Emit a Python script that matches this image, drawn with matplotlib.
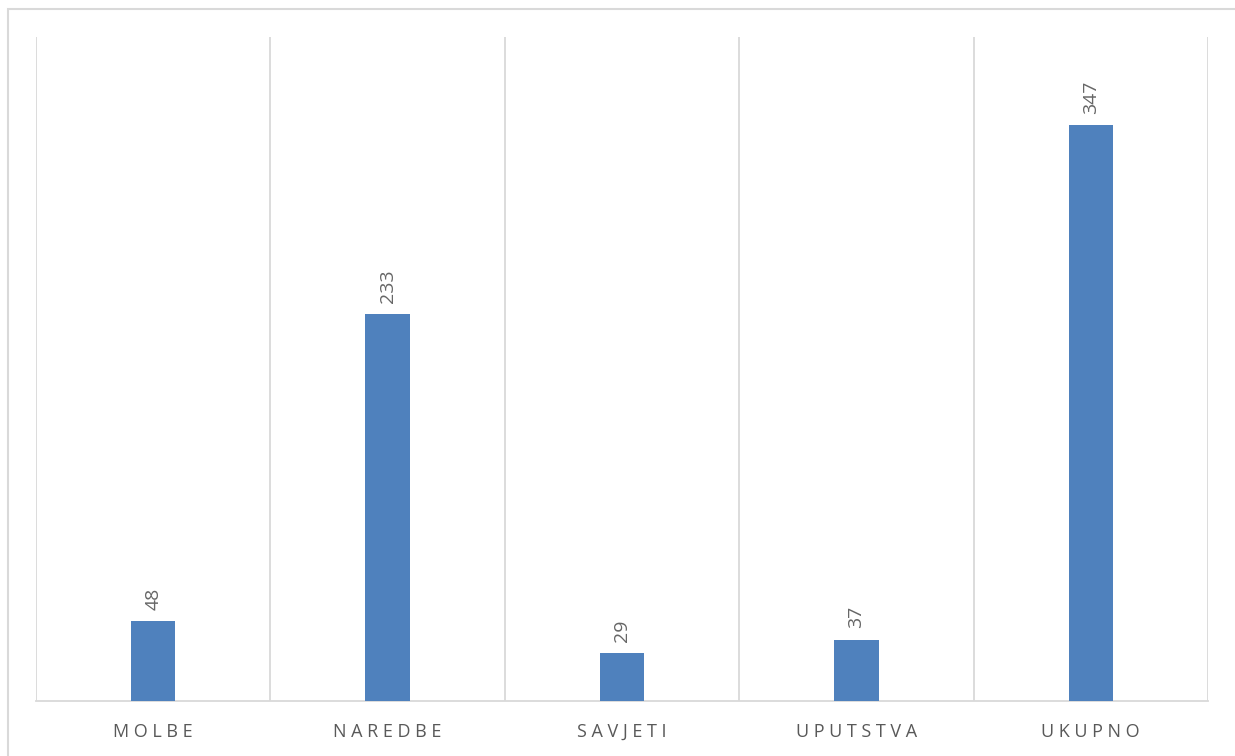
import matplotlib
matplotlib.use("Agg")
import matplotlib.pyplot as plt
from matplotlib.patches import Rectangle

categories = ["MOLBE", "NAREDBE", "SAVJETI", "UPUTSTVA", "UKUPNO"]
values = [48, 233, 29, 37, 347]

plt.rcParams['font.family'] = ['Open Sans', 'DejaVu Sans']

fig = plt.figure(figsize=(12.35, 7.56), dpi=100)
fig.patch.set_facecolor("white")

# outer chart border (top/left visible)
fig.patches.append(Rectangle((8/1235, -0.1), 1.2, 1 - 9/756 + 0.1,
                             transform=fig.transFigure, fill=False,
                             edgecolor="#d9d9d9", linewidth=1.5))

ax = fig.add_axes([36/1235, 1 - 701/756, (1208 - 36)/1235, (701 - 37)/756])
x = list(range(len(categories)))
bars = ax.bar(x, values, width=0.19, color="#4f81bd", zorder=3)

ax.set_xlim(-0.5, len(categories) - 0.5)
ax.set_ylim(0, 400)

# vertical gridlines at category boundaries
for b in [i - 0.5 for i in range(len(categories) + 1)]:
    ax.axvline(b, color="#d9d9d9", linewidth=1.3, zorder=1)

for s in ["top", "left", "right"]:
    ax.spines[s].set_visible(False)
ax.spines["bottom"].set_color("#d9d9d9")
ax.spines["bottom"].set_linewidth(1.3)
ax.set_yticks([])
ax.set_xticks(x)
ax.set_xticklabels([" ".join(c) for c in categories], fontsize=13,
                   color="#595959")
ax.tick_params(axis="x", length=0, pad=16)

for xi, v in zip(x, values):
    ax.annotate(str(v), (xi, v), xytext=(0, 8), textcoords="offset points",
                ha="center", va="bottom", rotation=90, fontsize=14,
                color="#666666")

fig.savefig("out.png", dpi=100)
